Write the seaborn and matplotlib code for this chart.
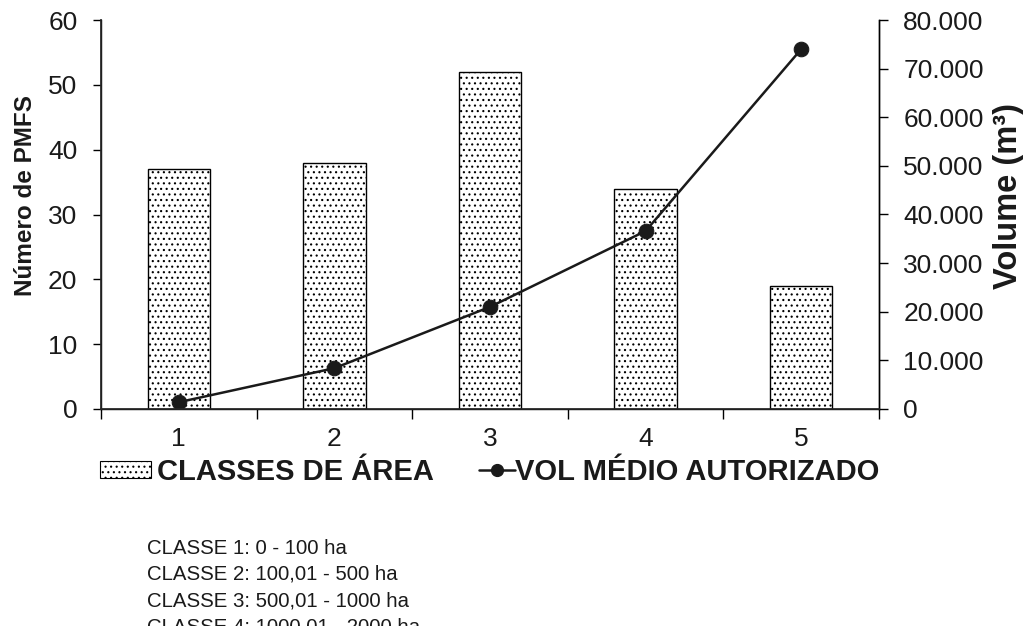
import matplotlib
matplotlib.use("Agg")
import matplotlib.pyplot as plt
import seaborn as sns
import numpy as np
import pandas as pd
from matplotlib.patches import Patch
from matplotlib.lines import Line2D

classes = ["1", "2", "3", "4", "5"]
n_pmfs = [37, 38, 52, 34, 19]
vol_medio = [1400, 8400, 21000, 36600, 74000]
left_ticks = [0, 10, 20, 30, 40, 50, 60]
right_ticks = [0, 10000, 20000, 30000, 40000, 50000, 60000, 70000, 80000]
right_labels = ["0", "10.000", "20.000", "30.000", "40.000", "50.000", "60.000", "70.000", "80.000"]
notes = ["CLASSE 1: 0 - 100 ha", "CLASSE 2: 100,01 - 500 ha",
         "CLASSE 3: 500,01 - 1000 ha", "CLASSE 4: 1000,01 - 2000 ha"]

sns.set_theme(style="white")
plt.rcParams['font.family'] = ['Liberation Sans', 'DejaVu Sans']
plt.rcParams['hatch.linewidth'] = 0.8
plt.rcParams['hatch.color'] = 'black'

TXT = "#1a1a1a"
fig = plt.figure(figsize=(10.28, 6.26), dpi=100)
ax = fig.add_axes([101/1028, 1-409/626, (879-101)/1028, (409-20)/626])

df = pd.DataFrame({"classe": classes, "n": n_pmfs})
sns.barplot(data=df, x="classe", y="n", ax=ax, width=0.4, color="white",
            edgecolor="black", linewidth=1.0, saturation=1)
for p in ax.patches:
    p.set_hatch("...")
    p.set_facecolor("white")

ax.set_xlim(-0.5, 4.5)
ax.set_ylim(0, 60)
ax.set_yticks(left_ticks)
ax.tick_params(axis='y', labelsize=19, length=6, width=1, direction='out', left=True,
               color='black', labelcolor=TXT, pad=11)
ax.set_xticks(range(5))
ax.set_xticklabels(classes)
ax.tick_params(axis='x', which='major', length=0, labelsize=19, pad=13, labelcolor=TXT)
ax.set_xticks(np.arange(-0.5, 5.0, 1.0), minor=True)
ax.tick_params(axis='x', which='minor', length=7, width=1, direction='out', bottom=True, color='black')
ax.set_xlabel("")
ax.set_ylabel("Número de PMFS", fontsize=17.5, fontweight='bold', color=TXT)
ax.yaxis.set_label_coords((37-101)/778, (409-195)/389)
for s in ["left", "bottom", "right"]:
    ax.spines[s].set_visible(True)
    ax.spines[s].set_color("black")
    ax.spines[s].set_linewidth(1.0)
ax.spines["top"].set_visible(False)

ax2 = ax.twinx()
sns.lineplot(x=np.arange(5), y=vol_medio, ax=ax2, color=TXT, linewidth=1.8,
             marker="o", markersize=10.5, markeredgecolor=TXT)
ax2.set_ylim(0, 80000)
ax2.set_yticks(right_ticks)
ax2.set_yticklabels(right_labels)
ax2.tick_params(axis='y', labelsize=19, length=6.5, width=1, direction='out', right=True,
                color='black', labelcolor=TXT, pad=11)
ax2.set_ylabel("Volume (m³)", fontsize=23.5, fontweight='bold', color=TXT)
ax2.yaxis.set_label_coords((993-101)/778, (409-196)/389)
ax2.spines["top"].set_visible(False)
ax2.spines["right"].set_color("black")
ax2.spines["right"].set_linewidth(1.0)

leg_prop = {'size': 21, 'weight': 'bold'}
ycen = 1 - 472/626
leg1 = fig.legend([Patch(facecolor="white", edgecolor="black", hatch="...", linewidth=0.8)],
                  ["CLASSES DE ÁREA"], loc="center left", bbox_to_anchor=(100/1028, ycen),
                  frameon=False, prop=leg_prop, handlelength=1.75, handleheight=0.55,
                  handletextpad=0.2, borderpad=0, borderaxespad=0)
for t in leg1.get_texts():
    t.set_color(TXT)
leg2 = fig.legend([Line2D([0], [0], color=TXT, linewidth=1.8, marker="o", markersize=8.5)],
                  ["VOL MÉDIO AUTORIZADO"], loc="center left", bbox_to_anchor=(479/1028, ycen),
                  frameon=False, prop=leg_prop, handlelength=1.25,
                  handletextpad=0.0, borderpad=0, borderaxespad=0)
for t in leg2.get_texts():
    t.set_color(TXT)

for i, t in enumerate(notes):
    fig.text(147/1028, 1-(548+26.3*i)/626, t, fontsize=14.7, va="center", ha="left", color=TXT)

fig.savefig("out.png", dpi=100)
